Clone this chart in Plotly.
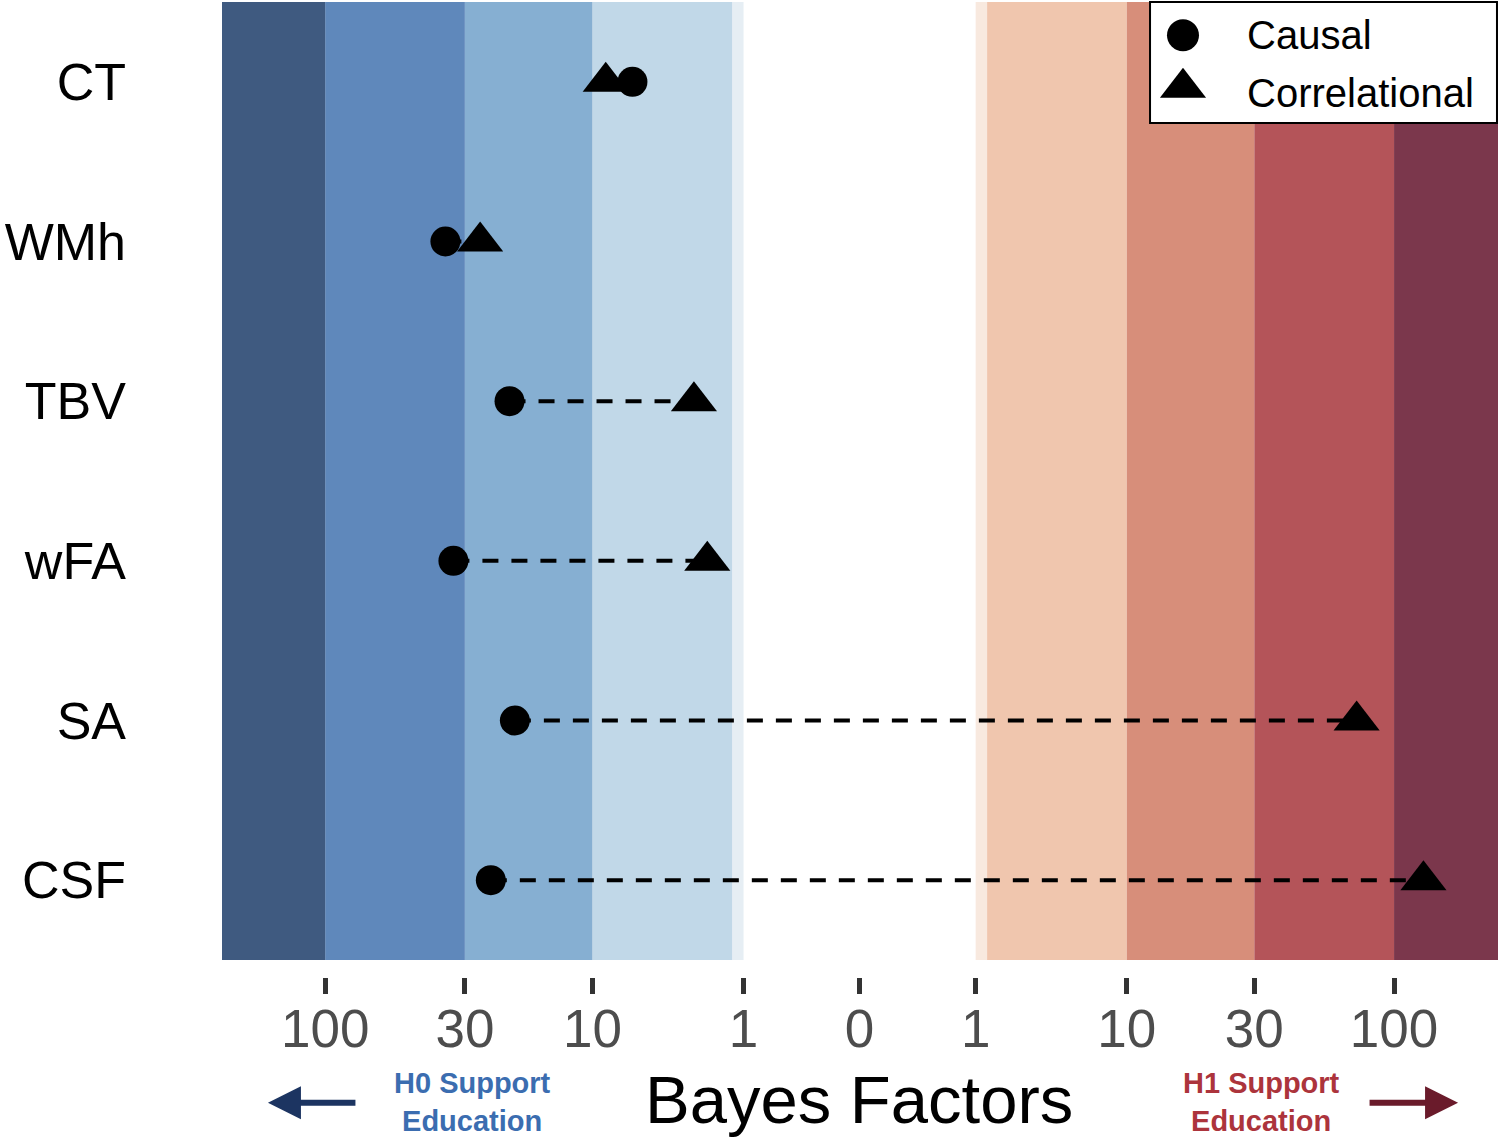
import numpy as np
import plotly.graph_objects as go

# brain measures, top to bottom
regions = ["CT", "WMh", "TBV", "wFA", "SA", "CSF"]

# log10(BF10); negative = evidence for H0
causal_logbf = [-0.85, -1.55, -1.31, -1.52, -1.29, -1.38]
correlational_logbf = [-0.95, -1.42, -0.62, -0.57, 1.86, 2.11]

# axis ticks: BF magnitude on each side (the "1" sits at log10(e) like the original)
tick_text = ["100", "30", "10", "1", "0", "1", "10", "30", "100"]
tick_bf = [100, 30, 10, np.e, 1, np.e, 10, 30, 100]
tick_side = [-1, -1, -1, -1, 0, 1, 1, 1, 1]
tick_vals = [s * np.log10(b) for s, b in zip(tick_side, tick_bf)]

# evidence bands, from the middle outwards
band_bf = [np.e, 3, 10, 30, 100]
h0_colors = ["#e6eef4", "#c1d8e8", "#86afd2", "#5f88bb", "#3f5a80"]
h1_colors = ["#f8e9df", "#f0c6ae", "#d78e7a", "#b45459", "#7b374c"]

x_min, x_max = -2.386, 2.389
FONT = "Liberation Sans"

fig = go.Figure()

edges = list(np.log10(band_bf)) + [x_max]
for i in range(len(band_bf)):
    fig.add_shape(type="rect", xref="x", yref="y", layer="below",
                  x0=-edges[i + 1] if i < len(band_bf) - 1 else x_min, x1=-edges[i],
                  y0=-0.5, y1=5.5, fillcolor=h0_colors[i], line_width=0)
    fig.add_shape(type="rect", xref="x", yref="y", layer="below",
                  x0=edges[i], x1=edges[i + 1], y0=-0.5, y1=5.5,
                  fillcolor=h1_colors[i], line_width=0)

# dashed connectors
lx, ly = [], []
for r, c, k in zip(regions, causal_logbf, correlational_logbf):
    lx += [c, k, None]
    ly += [r, r, None]
fig.add_trace(go.Scatter(x=lx, y=ly, mode="lines",
                         line=dict(color="black", width=4, dash="16px,13px"),
                         hoverinfo="skip"))

fig.add_trace(go.Scatter(x=causal_logbf, y=regions, mode="markers", name="Causal",
                         marker=dict(symbol="circle", size=30, color="black")))
fig.add_trace(go.Scatter(x=correlational_logbf, y=regions, mode="markers",
                         name="Correlational",
                         marker=dict(symbol="triangle-up", size=40, color="black")))

# hand-made legend in a small inset (plotly caps legend marker size)
fig.add_trace(go.Scatter(x=[0.095], y=[0.725], xaxis="x2", yaxis="y2", mode="markers",
                         marker=dict(symbol="circle", size=32, color="black"),
                         hoverinfo="skip"))
fig.add_trace(go.Scatter(x=[0.095], y=[0.29], xaxis="x2", yaxis="y2", mode="markers",
                         marker=dict(symbol="triangle-up", size=40, color="black"),
                         hoverinfo="skip"))
fig.add_shape(type="rect", xref="x2 domain", yref="y2 domain", x0=0, x1=1, y0=0, y1=1,
              line_width=0, fillcolor="white", layer="below")
fig.add_shape(type="rect", xref="x2 domain", yref="y2 domain", x0=0, x1=1, y0=0, y1=1,
              line=dict(color="black", width=2), fillcolor="rgba(0,0,0,0)", layer="above")
for txt, yy in [("Causal", 0.725), ("Correlational", 0.245)]:
    fig.add_annotation(xref="x2", yref="y2", x=0.275, y=yy, text=txt, showarrow=False,
                       xanchor="left", yanchor="middle",
                       font=dict(family=FONT, size=40, color="black"))

# bottom texts and arrows
fig.add_annotation(xref="paper", yref="paper", x=0.4996, y=-0.126, text="Bayes Factors",
                   showarrow=False, xanchor="center", yanchor="middle",
                   font=dict(family=FONT, size=67, color="black"))
fig.add_annotation(xref="paper", yref="paper", x=0.196, y=-0.128,
                   text="<b>H0 Support<br>Education</b>", showarrow=False,
                   xanchor="center", yanchor="middle",
                   font=dict(family=FONT, size=29, color="#3b6db0"))
fig.add_annotation(xref="paper", yref="paper", x=0.815, y=-0.128,
                   text="<b>H1 Support<br>Education</b>", showarrow=False,
                   xanchor="center", yanchor="middle",
                   font=dict(family=FONT, size=29, color="#ac343c"))
fig.add_annotation(xref="paper", yref="paper", x=0.036, y=-0.129, text="",
                   showarrow=True, ax=89, ay=0, arrowhead=2, arrowsize=1.1,
                   arrowwidth=6, arrowcolor="#1c3461", standoff=0)
fig.add_annotation(xref="paper", yref="paper", x=0.9687, y=-0.129, text="",
                   showarrow=True, ax=-90, ay=0, arrowhead=2, arrowsize=1.1,
                   arrowwidth=6, arrowcolor="#6a1b2b", standoff=0)

fig.update_layout(
    width=1500, height=1139,
    margin=dict(l=222, r=2, t=2, b=162),
    plot_bgcolor="white", paper_bgcolor="white",
    showlegend=False,
    font=dict(family=FONT),
    xaxis=dict(range=[x_min, x_max], tickvals=tick_vals, ticktext=tick_text,
               ticks="outside", ticklen=16, tickwidth=5, tickcolor="#333333",
               tickfont=dict(size=53, color="#4d4d4d"), ticklabelstandoff=-11,
               showgrid=False, zeroline=False, showline=False),
    yaxis=dict(type="category", categoryarray=regions, range=[5.6065, -0.5],
               tickfont=dict(size=52, color="black"), ticks="", ticklabelstandoff=95,
               showgrid=False, zeroline=False, showline=False),
    xaxis2=dict(domain=[0.7273, 0.9992], range=[0, 1], visible=False, anchor="y2"),
    yaxis2=dict(domain=[0.876, 1.0], range=[0, 1], visible=False, anchor="x2"),
)

# page body has an 8px default margin; drop it so the figure sits at the window origin
fig.write_html("out.html", config={"displayModeBar": False},
               post_script="document.body.style.margin = '0px';")
